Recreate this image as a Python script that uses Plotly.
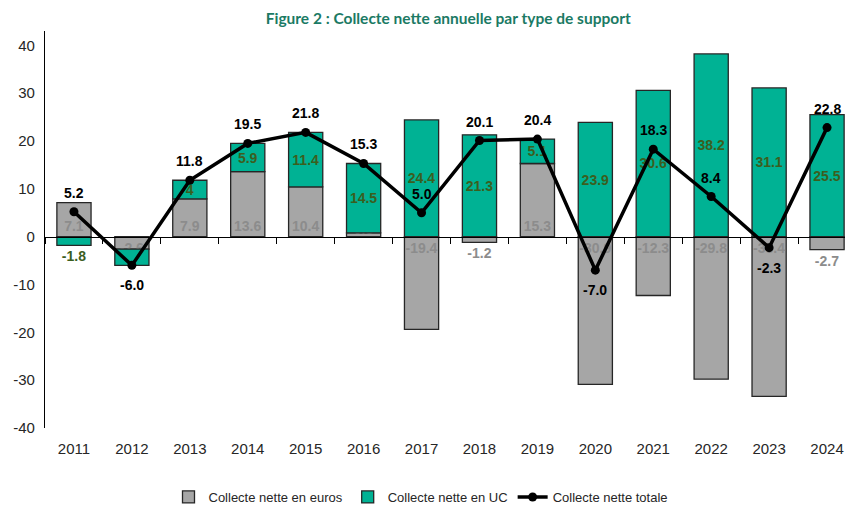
import plotly.graph_objects as go

years = ["2011", "2012", "2013", "2014", "2015", "2016", "2017", "2018", "2019",
         "2020", "2021", "2022", "2023", "2024"]
euros = [7.1, -2.6, 7.9, 13.6, 10.4, 0.8, -19.4, -1.2, 15.3, -30.9, -12.3, -29.8, -33.4, -2.7]
uc = [-1.8, -3.4, 3.9, 5.9, 11.4, 14.5, 24.4, 21.3, 5.1, 23.9, 30.6, 38.2, 31.1, 25.5]
total = [5.2, -6.0, 11.8, 19.5, 21.8, 15.3, 5.0, 20.1, 20.4, -7.0, 18.3, 8.4, -2.3, 22.8]
euro_labels = ["7.1", "-2.6", "7.9", "13.6", "10.4", "0.8", "-19.4", "-1.2", "15.3",
               "-30.9", "-12.3", "-29.8", "-33.4", "-2.7"]
uc_labels = ["-1.8", "", "4", "5.9", "11.4", "14.5", "24.4", "21.3", "5.1",
             "23.9", "30.6", "38.2", "31.1", "25.5"]
total_labels = ["5.2", "-6.0", "11.8", "19.5", "21.8", "15.3", "5.0", "20.1", "20.4",
                "-7.0", "18.3", "8.4", "-2.3", "22.8"]
y_ticks = [-40, -30, -20, -10, 0, 10, 20, 30, 40]
y_tick_text = ["-40", "-30", "-20", "-10", "0", "10", "20", "30", "40"]

GRAY = "#A6A6A6"
TEAL = "#00B294"
EDGE = "#262626"
FONT = "Liberation Sans, Arial, sans-serif"
Y_MIN, Y_MAX = -40, 43


def pos(v):
    return "outside" if abs(v) < 3 else "inside"


fig = go.Figure()
fig.add_trace(go.Bar(
    x=years, y=euros, name="Collecte nette en euros",
    marker=dict(color=GRAY, line=dict(color=EDGE, width=1.3)),
    text=euro_labels, textposition=[pos(v) for v in euros], insidetextanchor="start",
    textangle=0,
    textfont=dict(family=FONT, size=14, color="#8C8C8C", weight="bold"),
    outsidetextfont=dict(family=FONT, size=14, color="#8C8C8C", weight="bold"),
    cliponaxis=False,
))
fig.add_trace(go.Bar(
    x=years, y=uc, name="Collecte nette en UC",
    marker=dict(color=TEAL, line=dict(color=EDGE, width=1.3)),
    text=uc_labels, textposition=[pos(v) for v in uc], insidetextanchor="middle",
    textangle=0,
    textfont=dict(family=FONT, size=14, color="#3B5E1E", weight="bold"),
    outsidetextfont=dict(family=FONT, size=14, color="#3B5E1E", weight="bold"),
    cliponaxis=False,
))
fig.add_trace(go.Scatter(
    x=years, y=total, name="Collecte nette totale", mode="lines+markers",
    line=dict(color="black", width=3.5), marker=dict(color="black", size=9),
    cliponaxis=False,
))
# invisible trace to activate the zero-line axis carrying the boundary ticks
fig.add_trace(go.Scatter(x=years, y=total, xaxis="x2", mode="none", showlegend=False,
                         hoverinfo="skip"))

for i, (v, lab) in enumerate(zip(total, total_labels)):
    fig.add_annotation(x=i, y=v, xref="x", yref="y", text="<b>" + lab + "</b>",
                       showarrow=False, yshift=19 if v >= 0 else -20,
                       font=dict(family=FONT, size=14, color="black"))

fig.update_layout(
    width=845, height=508,
    margin=dict(l=45, r=0, t=31, b=80, autoexpand=False),
    paper_bgcolor="white", plot_bgcolor="white",
    barmode="relative", bargap=0.41,
    uniformtext=dict(minsize=14, mode="show"),
    font=dict(family=FONT, size=15, color="#262626"),
    title=dict(text="<b>Figure 2 : Collecte nette annuelle par type de support</b>",
               x=0.504, xanchor="center", xref="paper",
               y=1 - 19 / 508, yanchor="middle", yref="container",
               font=dict(family="Lato, sans-serif", size=15.5, color="#1B7A64")),
    showlegend=True,
    legend=dict(orientation="h", x=0.47, xanchor="center",
                y=1 - 497 / 508, yanchor="middle", yref="container",
                font=dict(family=FONT, size=13, color="#262626"),
                traceorder="normal", itemwidth=30),
    xaxis=dict(type="category", range=[-0.5, 13.31], showgrid=False, showline=False,
               ticks="", tickfont=dict(size=15), ticklabelstandoff=10, automargin=False),
    xaxis2=dict(type="category", range=[-0.5, 13.31], overlaying="x", anchor="free",
                position=(0 - Y_MIN) / (Y_MAX - Y_MIN), showline=True, linecolor="black",
                linewidth=1.2, ticks="outside", ticklen=6, tickcolor="black",
                tickwidth=1.2, tickson="boundaries", showticklabels=False,
                showgrid=False, matches="x", automargin=False),
    yaxis=dict(range=[Y_MIN, Y_MAX], tickvals=y_ticks, ticktext=y_tick_text,
               showgrid=False, zeroline=False, showline=True, linecolor="black",
               linewidth=1.2, ticks="", tickfont=dict(size=15), automargin=False,
               ticklabelstandoff=6),
)

fig.write_html("out.html", config={"displayModeBar": False},
               post_script="document.body.style.margin='0';")
